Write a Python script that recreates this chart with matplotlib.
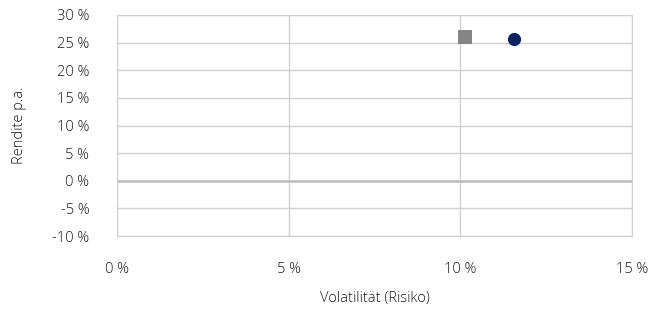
import matplotlib
matplotlib.use("Agg")
import matplotlib.pyplot as plt
from matplotlib.ticker import FuncFormatter

plt.rcParams['font.family'] = ['Open Sans', 'DejaVu Sans']

series_names = ["Benchmark", "Portfolio"]
volatility = [10.15, 11.55]
returns = [26.1, 25.6]
markers = ["s", "o"]
colors = ["#858585", "#0a2463"]

x_ticks = [0, 5, 10, 15]
y_ticks = [-10, -5, 0, 5, 10, 15, 20, 25, 30]

fig = plt.figure(figsize=(6.66, 3.10), dpi=100)
ax = fig.add_axes([117/666, 1-236/310, (632-117)/666, (236-15)/310])

grid_c = "#d0d0d0"
for y in y_ticks:
    ax.axhline(y, color=grid_c, lw=1.0, zorder=1)
for x in x_ticks:
    ax.axvline(x, color=grid_c, lw=1.0, zorder=1)
ax.axhline(0, color="#bdbdbd", lw=1.8, zorder=1.5)

for v, r, m, c in zip(volatility, returns, markers, colors):
    ax.scatter([v], [r], marker=m, s=90, color=c, zorder=3, linewidths=0)

text_c = "#1a1a1a"
ax.set_xlim(0, 15)
ax.set_ylim(-10, 30)
ax.set_xticks(x_ticks)
ax.set_yticks(y_ticks)
fmt = FuncFormatter(lambda v, p: f"{int(round(v))} %")
ax.xaxis.set_major_formatter(fmt)
ax.yaxis.set_major_formatter(fmt)
for s in ax.spines.values():
    s.set_color(grid_c)
ax.tick_params(axis='both', length=0, labelsize=10.5, colors=text_c)
for lbl in ax.get_xticklabels() + ax.get_yticklabels():
    lbl.set_fontweight('light')
ax.tick_params(axis='x', pad=19)
ax.tick_params(axis='y', pad=20)
ax.set_xlabel("Volatilität (Risiko)", fontsize=10.5, color=text_c, labelpad=10, fontweight='light')
ax.set_ylabel("Rendite p.a.", fontsize=10.5, color=text_c, labelpad=18, fontweight='light')

fig.savefig("out.png", dpi=100)
